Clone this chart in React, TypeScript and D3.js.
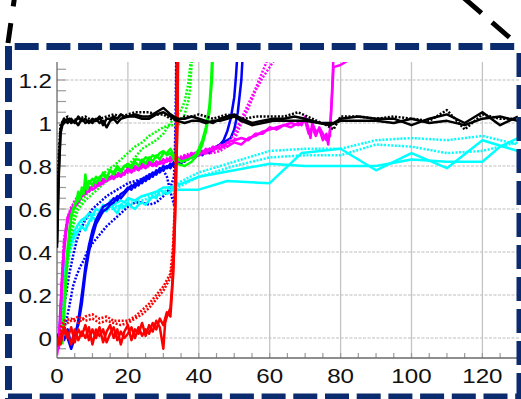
import { useEffect, useRef } from 'react'
import * as d3 from 'd3'

type Pt = [number, number]

// tick labels
const xTicks = [0, 20, 40, 60, 80, 100, 120]
const yTicks = [0, 0.2, 0.4, 0.6, 0.8, 1, 1.2]

// black runs
const blackA: Pt[] = [[0,0.44],[0.5,0.78],[1,0.97],[1.5,1.0],[2,1.02],[3,1.0],[4,1.02],[5,1.0],[6,1.03],[7,1.01],[8,1.02],[9,1.0],[10,1.02],[11,1.01],[12,1.03],[13,0.99],[14,1.02],[15,1.02],[16,1.03],[17,1.02],[18,1.04],[19,1.03],[20,1.03],[22,1.04],[24,1.03],[26,1.03],[28,1.05],[30,1.07],[32,1.04],[34,1.02],[36,1.02],[38,1.03],[40,1.02],[42,1.01],[44,1.0],[46,1.02],[48,1.03],[50,1.04],[52,1.02],[55,1.0],[58,1.01],[61,1.02],[64,1.02],[67,1.03],[70,1.02],[74,1.0],[78,1.0],[80,1.02],[85,1.03],[90,1.02],[95,1.02],[100,0.99],[105,1.02],[110,1.04],[115,1.0],[120,1.05],[125,0.99],[130,1.03]]
const blackB: Pt[] = [[0,0.42],[0.5,0.75],[1,0.95],[1.5,0.99],[2,1.0],[3,1.02],[4,1.0],[5,1.01],[6,0.99],[7,1.02],[8,1.0],[9,1.01],[10,1.0],[11,1.02],[12,1.0],[13,1.01],[14,0.98],[15,1.01],[16,1.02],[17,1.0],[18,1.02],[20,1.03],[22,1.03],[24,1.02],[26,1.02],[28,1.04],[30,1.05],[32,1.03],[34,1.01],[36,1.0],[38,1.01],[40,1.01],[42,1.0],[44,1.01],[46,1.01],[48,1.02],[50,1.03],[52,1.01],[55,0.99],[58,1.0],[61,1.01],[64,1.01],[67,1.01],[70,1.01],[74,1.0],[77,0.99],[80,1.01],[85,1.01],[90,1.01],[95,1.0],[100,1.02],[105,1.0],[110,1.01],[115,0.99],[120,1.02],[125,1.03],[130,1.01]]
const blackDot: Pt[] = [[0,0.5],[0.5,0.85],[1,0.99],[2,1.02],[3,1.03],[4,1.01],[6,1.02],[8,1.03],[10,1.01],[12,1.02],[14,1.03],[16,1.04],[18,1.03],[20,1.04],[22,1.05],[24,1.05],[26,1.05],[28,1.04],[30,1.04],[32,1.02],[34,1.01],[36,1.03],[38,1.03],[40,1.04],[42,1.03],[44,1.02],[46,1.03],[48,1.04],[50,1.03],[53,1.02],[56,1.03],[60,1.03],[64,1.03],[68,1.05],[72,1.02],[76,0.99],[78,0.97],[80,1.03],[85,1.03],[90,1.02],[95,1.03],[100,1.02],[105,1.01],[110,1.06],[115,0.97],[120,1.04],[125,1.02],[130,1.02]]

// green runs
const greenA: Pt[] = [[1.5,-0.03],[2,0.1],[2.5,0.25],[3,0.38],[3.5,0.48],[4,0.56],[5,0.62],[5.5,0.64],[6,0.68],[6.5,0.65],[7,0.7],[7.5,0.67],[8,0.76],[8.5,0.69],[9,0.72],[10,0.74],[11,0.72],[12,0.75],[13,0.76],[14,0.74],[15,0.78],[16,0.76],[17,0.79],[18,0.77],[19,0.8],[20,0.8],[21,0.79],[22,0.82],[23,0.8],[24,0.83],[25,0.81],[26,0.84],[27,0.82],[28,0.85],[29,0.83],[30,0.86],[31,0.86],[32,0.88],[33,0.85],[35,0.82],[37,0.83],[39,0.85],[40,0.88],[41,0.92],[42,0.98],[43,1.08],[43.5,1.2],[44,1.4]]
const greenB: Pt[] = [[1.5,0.0],[2,0.14],[2.5,0.3],[3,0.42],[3.5,0.5],[4,0.57],[5,0.62],[6,0.64],[7,0.67],[8,0.7],[9,0.73],[10,0.71],[11,0.75],[12,0.73],[13,0.77],[14,0.75],[15,0.78],[16,0.77],[17,0.8],[18,0.78],[19,0.8],[20,0.81],[21,0.8],[22,0.83],[23,0.83],[24,0.82],[25,0.84],[26,0.83],[27,0.85],[28,0.84],[29,0.86],[30,0.87],[31,0.85],[32,0.86],[33,0.83],[34,0.81],[36,0.8],[38,0.82],[40,0.86],[41,0.9],[42,0.96],[43,1.05],[43.7,1.2],[44.2,1.4]]
const greenDotA: Pt[] = [[1,0],[2,0.2],[3,0.4],[4,0.5],[5,0.58],[6,0.62],[8,0.66],[10,0.7],[12,0.74],[14,0.78],[16,0.8],[18,0.83],[20,0.86],[22,0.89],[24,0.91],[26,0.94],[28,0.96],[30,0.98],[32,0.99],[34,0.99],[35,1.0],[36,1.04],[37,1.1],[37.5,1.15],[38,1.28],[38.3,1.5]]
const greenDotB: Pt[] = [[1,-0.02],[2,0.15],[3,0.35],[4,0.47],[5,0.55],[6,0.6],[8,0.64],[10,0.67],[12,0.7],[14,0.73],[16,0.75],[18,0.78],[20,0.8],[22,0.84],[24,0.88],[26,0.9],[28,0.92],[30,0.95],[32,1.0],[33,1.02],[34,1.04],[35,1.06],[36,1.1],[37,1.18],[37.8,1.3],[38.2,1.5]]

// magenta runs
const magentaA: Pt[] = [[0,-0.08],[0.5,-0.02],[1,0.15],[1.5,0.3],[2,0.42],[2.5,0.5],[3,0.56],[4,0.6],[5,0.62],[6,0.65],[7,0.67],[8,0.69],[9,0.68],[10,0.71],[11,0.72],[12,0.71],[13,0.74],[14,0.73],[15,0.75],[16,0.74],[17,0.76],[18,0.75],[19,0.77],[20,0.78],[21,0.77],[22,0.79],[23,0.78],[24,0.8],[25,0.79],[26,0.81],[27,0.8],[28,0.82],[29,0.81],[30,0.83],[31,0.82],[32,0.84],[33,0.83],[34,0.82],[35,0.84],[36,0.83],[37,0.85],[38,0.84],[39,0.86],[40,0.85],[41,0.87],[42,0.86],[43,0.88],[44,0.87],[45,0.89],[46,0.88],[47,0.9],[48,0.89],[49,0.9],[50,0.91],[52,0.9],[54,0.93],[56,0.94],[58,0.96],[60,0.97],[62,0.98],[64,0.99],[66,0.98],[68,1.0],[69,0.99],[70,1.03],[71,0.97],[71.5,0.93],[72,1.0],[73,0.96],[74,0.97],[75,0.92],[76,0.95],[76.5,0.9],[77,0.97],[77.5,1.1],[78,1.26],[80,1.27],[82,1.29],[84,1.3]]
const magentaB: Pt[] = [[0.5,-0.05],[1,0.1],[1.5,0.28],[2,0.4],[2.5,0.48],[3,0.54],[4,0.58],[5,0.61],[6,0.63],[7,0.66],[8,0.67],[9,0.7],[10,0.69],[11,0.7],[12,0.73],[13,0.72],[14,0.75],[15,0.74],[16,0.76],[17,0.75],[18,0.77],[19,0.76],[20,0.79],[21,0.78],[22,0.8],[23,0.79],[24,0.81],[25,0.8],[26,0.82],[27,0.81],[28,0.8],[29,0.82],[30,0.81],[31,0.83],[32,0.82],[33,0.85],[34,0.84],[35,0.82],[36,0.85],[37,0.84],[38,0.86],[39,0.85],[40,0.87],[41,0.86],[42,0.88],[43,0.87],[44,0.89],[45,0.88],[46,0.9],[47,0.89],[48,0.91],[50,0.92],[52,0.93],[54,0.92],[56,0.95],[58,0.95],[60,0.98],[62,0.97],[64,0.99],[66,1.0],[68,0.99],[70,1.01],[71,0.95],[72,0.98],[73,0.94],[74,0.98],[75,0.95],[76,0.92],[77,0.94],[77.6,1.15],[78.2,1.4]]
const magentaDotA: Pt[] = [[0.5,-0.05],[1,0.1],[1.5,0.3],[2,0.45],[3,0.55],[4,0.6],[5,0.64],[6,0.66],[8,0.68],[10,0.71],[12,0.72],[14,0.74],[16,0.76],[18,0.77],[20,0.78],[22,0.79],[24,0.8],[26,0.81],[28,0.82],[30,0.83],[32,0.84],[34,0.84],[36,0.85],[38,0.86],[40,0.86],[42,0.87],[44,0.88],[46,0.88],[48,0.9],[50,0.95],[52,1.02],[54,1.09],[56,1.16],[58,1.24],[60,1.32]]
const magentaDotB: Pt[] = [[0.5,-0.03],[1,0.12],[1.5,0.32],[2,0.46],[3,0.56],[4,0.61],[5,0.63],[6,0.65],[8,0.67],[10,0.7],[12,0.71],[14,0.73],[16,0.75],[18,0.76],[20,0.77],[22,0.78],[24,0.79],[26,0.8],[28,0.81],[30,0.82],[32,0.83],[34,0.83],[36,0.84],[38,0.85],[40,0.85],[42,0.86],[44,0.86],[46,0.87],[48,0.89],[50,0.92],[52,1.0],[54,1.07],[56,1.15],[58,1.21],[60,1.26],[62,1.31]]

// blue runs
const blueA: Pt[] = [[0,0.02],[1,-0.02],[2,0.05],[3,0.0],[4,-0.05],[5,0.0],[6,0.08],[7,0.2],[8,0.33],[9,0.43],[10,0.5],[11,0.55],[12,0.58],[13,0.61],[14,0.62],[15,0.63],[16,0.65],[17,0.64],[18,0.67],[19,0.68],[20,0.7],[21,0.69],[22,0.72],[23,0.71],[24,0.74],[25,0.73],[26,0.76],[27,0.75],[28,0.78],[29,0.77],[30,0.8],[31,0.79],[32,0.81],[33,0.8],[34,0.82],[35,0.81],[36,0.84],[37,0.83],[38,0.85],[39,0.84],[40,0.86],[41,0.85],[42,0.87],[43,0.86],[44,0.88],[45,0.89],[46,0.9],[47,0.92],[48,0.96],[49,1.02],[50,1.12],[50.5,1.22],[51,1.35]]
const blueB: Pt[] = [[0,0.0],[1,0.03],[2,-0.01],[3,0.04],[4,-0.03],[5,0.02],[6,0.06],[7,0.16],[8,0.3],[9,0.4],[10,0.47],[11,0.53],[12,0.56],[13,0.59],[14,0.6],[15,0.62],[16,0.63],[17,0.66],[18,0.65],[19,0.67],[20,0.69],[21,0.71],[22,0.7],[23,0.73],[24,0.72],[25,0.75],[26,0.74],[27,0.77],[28,0.76],[29,0.79],[30,0.78],[31,0.8],[32,0.79],[33,0.82],[34,0.81],[35,0.83],[36,0.82],[37,0.85],[38,0.84],[39,0.86],[40,0.85],[41,0.87],[42,0.86],[43,0.88],[44,0.87],[45,0.89],[46,0.9],[47,0.91],[48,0.92],[49,0.93],[50,0.97],[51,1.05],[52,1.2],[52.5,1.35]]
const blueDotA: Pt[] = [[0.5,0.0],[1.5,0.03],[2.5,0.07],[3.5,0.15],[4.5,0.24],[5.5,0.29],[6.5,0.33],[7.5,0.36],[8.5,0.4],[10,0.44],[12,0.48],[14,0.52],[16,0.55],[18,0.58],[20,0.61],[22,0.63],[24,0.63],[26,0.62],[28,0.63],[30,0.66],[31,0.68],[32,0.7],[33,0.75],[33.3,0.9],[33.5,1.1],[33.7,1.4]]
const blueDotB: Pt[] = [[0.5,0.0],[1.5,0.08],[2.5,0.2],[3.5,0.3],[4.5,0.38],[5.5,0.45],[6.5,0.5],[8,0.55],[10,0.6],[12,0.63],[14,0.66],[16,0.68],[18,0.7],[20,0.72],[22,0.73],[24,0.74],[26,0.76],[28,0.77],[30,0.78],[31,0.75],[32,0.68],[33,0.62],[33.3,0.7],[33.6,0.95],[33.8,1.4]]

// red runs
const redA: Pt[] = [[0,-0.04],[1,0.02],[2,0.03],[3,0.0],[4,0.05],[5,-0.02],[6,0.04],[7,0.01],[8,0.06],[9,-0.01],[10,0.04],[11,0.0],[12,0.05],[13,-0.02],[14,0.03],[15,0.06],[16,0.0],[17,0.04],[18,-0.03],[19,0.03],[20,0.06],[21,-0.01],[22,0.04],[23,0.02],[24,0.07],[25,0.01],[26,0.06],[27,0.03],[28,0.08],[29,0.05],[30,-0.05],[30.5,0.07],[31,0.1],[32,0.14],[32.5,0.25],[33,0.4],[33.5,0.7],[34,1.0],[34.2,1.4]]
const redB: Pt[] = [[0,0.0],[1,-0.03],[2,0.05],[3,0.02],[4,-0.03],[5,0.04],[6,-0.01],[7,0.03],[8,0.0],[9,0.05],[10,-0.03],[11,0.04],[12,0.01],[13,0.04],[14,-0.02],[15,0.02],[16,0.05],[17,-0.01],[18,0.03],[19,0.0],[20,0.02],[21,0.05],[22,0.0],[23,0.05],[24,0.01],[25,0.04],[26,0.02],[27,0.07],[28,0.04],[29,0.09],[30,0.06],[31,0.12],[32,0.1],[32.8,0.3],[33.3,0.55],[33.8,0.9],[34.2,1.4]]
const redDotA: Pt[] = [[1,0.05],[2,0.08],[4,0.09],[6,0.07],[8,0.1],[10,0.11],[12,0.09],[14,0.1],[16,0.08],[18,0.08],[20,0.08],[22,0.1],[24,0.13],[26,0.16],[28,0.2],[30,0.24],[31,0.27],[32,0.3],[32.7,0.42],[33.2,0.6],[33.6,0.9],[34,1.4]]
const redDotB: Pt[] = [[1,0.03],[2,0.06],[4,0.08],[6,0.1],[8,0.08],[10,0.09],[12,0.07],[14,0.08],[16,0.07],[18,0.06],[20,0.07],[22,0.09],[24,0.11],[26,0.14],[28,0.18],[30,0.22],[31,0.25],[32,0.28],[32.6,0.35],[33.1,0.55],[33.5,0.85],[33.9,1.4]]

// cyan runs
const cyanA: Pt[] = [[0.5,0.0],[1,0.08],[1.5,0.2],[2,0.3],[3,0.38],[4,0.44],[5,0.48],[6,0.5],[7,0.52],[8,0.5],[9,0.54],[10,0.56],[11,0.55],[12,0.58],[13,0.6],[14,0.59],[15,0.64],[16,0.6],[17,0.58],[18,0.62],[19,0.61],[20,0.63],[21,0.61],[22,0.6],[23,0.62],[24,0.63],[25,0.62],[26,0.64],[27,0.66],[28,0.65],[29,0.69],[30,0.68],[31,0.67],[32,0.68],[33,0.7],[34,0.69],[40,0.69],[48,0.73],[60,0.72],[69,0.86],[80,0.88],[90,0.78],[100,0.86],[110,0.79],[120,0.92],[130,0.87]]
const cyanB: Pt[] = [[0.5,0.02],[1,0.1],[1.5,0.22],[2,0.32],[3,0.4],[4,0.46],[5,0.5],[6,0.53],[7,0.55],[8,0.56],[9,0.58],[10,0.57],[11,0.6],[12,0.59],[13,0.62],[14,0.61],[15,0.63],[16,0.62],[17,0.63],[18,0.64],[19,0.63],[20,0.65],[22,0.64],[24,0.66],[26,0.67],[28,0.68],[30,0.7],[32,0.7],[34,0.71],[40,0.75],[50,0.78],[60,0.81],[70,0.8],[80,0.8],[90,0.8],[100,0.83],[110,0.82],[120,0.82],[125,0.89],[130,0.93]]
const cyanDotA: Pt[] = [[0.5,-0.02],[1,0.1],[2,0.25],[3,0.35],[4,0.42],[5,0.46],[6,0.5],[8,0.52],[10,0.55],[12,0.57],[14,0.6],[16,0.6],[18,0.62],[20,0.64],[22,0.64],[24,0.66],[26,0.66],[28,0.67],[30,0.68],[32,0.7],[34,0.72],[40,0.77],[50,0.82],[60,0.87],[70,0.88],[80,0.88],[90,0.92],[100,0.93],[110,0.92],[120,0.94],[130,0.9]]
const cyanDotB: Pt[] = [[0.5,0.0],[1,0.12],[2,0.28],[3,0.38],[4,0.45],[5,0.5],[6,0.52],[8,0.55],[10,0.57],[12,0.58],[14,0.6],[16,0.62],[18,0.6],[20,0.62],[22,0.63],[24,0.64],[26,0.65],[28,0.66],[30,0.67],[32,0.68],[34,0.7],[40,0.75],[50,0.8],[60,0.84],[70,0.85],[80,0.85],[90,0.9],[100,0.89],[110,0.86],[120,0.87],[130,0.91]]

const series = [
  { data: blueDotA, color: '#0000ff', dotted: true },
  { data: blueDotB, color: '#0000ff', dotted: true },
  { data: cyanDotA, color: '#00ffff', dotted: true },
  { data: cyanDotB, color: '#00ffff', dotted: true },
  { data: cyanA, color: '#00ffff', dotted: false },
  { data: cyanB, color: '#00ffff', dotted: false },
  { data: greenDotA, color: '#00ff00', dotted: true },
  { data: greenDotB, color: '#00ff00', dotted: true },
  { data: blueA, color: '#0000ff', dotted: false },
  { data: blueB, color: '#0000ff', dotted: false },
  { data: magentaDotA, color: '#ff00ff', dotted: true },
  { data: magentaDotB, color: '#ff00ff', dotted: true },
  { data: magentaA, color: '#ff00ff', dotted: false },
  { data: magentaB, color: '#ff00ff', dotted: false },
  { data: greenA, color: '#00ff00', dotted: false },
  { data: greenB, color: '#00ff00', dotted: false },
  { data: redDotA, color: '#ff0000', dotted: true },
  { data: redDotB, color: '#ff0000', dotted: true },
  { data: redA, color: '#ff0000', dotted: false },
  { data: redB, color: '#ff0000', dotted: false },
  { data: blackDot, color: '#000000', dotted: true },
  { data: blackA, color: '#000000', dotted: false },
  { data: blackB, color: '#000000', dotted: false },
]

export default function App() {
  const svgRef = useRef<SVGSVGElement>(null)

  useEffect(() => {
    if (!svgRef.current) return
    const svg = d3.select(svgRef.current)
    svg.selectAll('*').remove()

    const width = 521
    const height = 399
    const left = 57, right = 519, top = 62, bottom = 358

    const x = d3.scaleLinear().domain([0, 130]).range([57, 57 + 130 * 3.545])
    const y = d3.scaleLinear().domain([0, 1.2]).range([338, 80])

    svg.attr('width', width).attr('height', height)

    svg.append('defs').append('clipPath').attr('id', 'plot-clip')
      .append('rect')
      .attr('x', left).attr('y', top)
      .attr('width', right - left).attr('height', bottom - top)

    // grid
    svg.append('g').selectAll('line')
      .data(xTicks.filter(d => d > 0))
      .enter().append('line')
      .attr('x1', d => x(d)).attr('x2', d => x(d))
      .attr('y1', top).attr('y2', bottom)
      .attr('stroke', '#c4c4c4').attr('stroke-width', 1.3)

    svg.append('g').selectAll('line')
      .data(yTicks)
      .enter().append('line')
      .attr('x1', left).attr('x2', right)
      .attr('y1', d => y(d)).attr('y2', d => y(d))
      .attr('stroke', '#bdbdbd').attr('stroke-width', 1.2)
      .attr('stroke-dasharray', '3 1.5')

    // minor ticks
    const yMinor = d3.range(-0.05, 1.3, 0.05).filter(v => y(v) >= top && y(v) <= bottom)
    svg.append('g').selectAll('line')
      .data(yMinor)
      .enter().append('line')
      .attr('x1', left).attr('x2', left + 9)
      .attr('y1', d => y(d)).attr('y2', d => y(d))
      .attr('stroke', '#9a9a9a').attr('stroke-width', 1.2)

    svg.append('g').selectAll('line')
      .data(d3.range(5, 131, 5))
      .enter().append('line')
      .attr('x1', d => x(d)).attr('x2', d => x(d))
      .attr('y1', bottom).attr('y2', bottom - 5)
      .attr('stroke', '#9a9a9a').attr('stroke-width', 1.2)

    // axes
    svg.append('line')
      .attr('x1', left).attr('x2', left).attr('y1', top).attr('y2', bottom)
      .attr('stroke', '#6a6a6a').attr('stroke-width', 1.3)
    svg.append('line')
      .attr('x1', left).attr('x2', right).attr('y1', bottom).attr('y2', bottom)
      .attr('stroke', '#6a6a6a').attr('stroke-width', 1.3)

    // data lines
    const line = d3.line<Pt>().x(d => x(d[0])).y(d => y(d[1]))
    const g = svg.append('g').attr('clip-path', 'url(#plot-clip)')
    series.forEach(s => {
      g.append('path')
        .attr('d', line(s.data))
        .attr('fill', 'none')
        .attr('stroke', s.color)
        .attr('stroke-width', 2.5)
        .attr('stroke-linejoin', 'round')
        .attr('stroke-dasharray', s.dotted ? '2 1.6' : null)
    })

    // tick labels
    const font = '"Liberation Sans", Arial, Helvetica, sans-serif'
    svg.append('g').selectAll('text')
      .data(yTicks)
      .enter().append('text')
      .attr('transform', d => `translate(52,${y(d) + 7.5}) scale(1.15,1)`)
      .attr('text-anchor', 'end')
      .style('font-family', font)
      .style('font-size', '21px')
      .style('fill', '#111')
      .text(d => String(d))

    svg.append('g').selectAll('text')
      .data(xTicks)
      .enter().append('text')
      .attr('transform', d => `translate(${x(d)},383) scale(1.15,1)`)
      .attr('text-anchor', 'middle')
      .style('font-family', font)
      .style('font-size', '21px')
      .style('fill', '#111')
      .text(d => String(d))

    // zoom callout frame
    const navy = '#0a2b6d'
    const frame = svg.append('g').attr('stroke', navy).attr('stroke-width', 7).attr('fill', 'none')
    frame.append('line').attr('x1', 8).attr('x2', 521).attr('y1', 46.5).attr('y2', 46.5)
      .attr('stroke-dasharray', '24 7.7').attr('stroke-dashoffset', 25)
    frame.append('line').attr('x1', 8).attr('x2', 521).attr('y1', 397).attr('y2', 397)
      .attr('stroke-dasharray', '24 7.7')
    frame.append('line').attr('x1', 8.5).attr('x2', 8.5).attr('y1', 46).attr('y2', 399)
      .attr('stroke-dasharray', '24 8')
    frame.append('line').attr('x1', 520).attr('x2', 520).attr('y1', 46).attr('y2', 399)
      .attr('stroke-dasharray', '24 8').attr('stroke-dashoffset', -7)

    const leader = svg.append('g').attr('stroke', '#000').attr('stroke-width', 5).attr('fill', 'none')
    leader.append('line').attr('x1', 8).attr('y1', 43).attr('x2', 15).attr('y2', -6)
      .attr('stroke-dasharray', '20 17')
    leader.append('line').attr('x1', 517).attr('y1', 44).attr('x2', 457).attr('y2', -8)
      .attr('stroke-dasharray', '23 14').attr('stroke-dashoffset', -10)
  }, [])

  return (
    <svg ref={svgRef} style={{ position: 'absolute', left: 0, top: 0, background: '#fff' }}></svg>
  )
}
